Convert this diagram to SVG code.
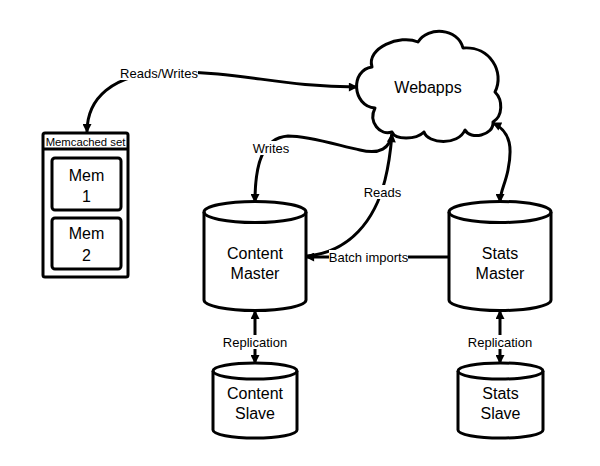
<svg xmlns="http://www.w3.org/2000/svg" width="600" height="466" viewBox="0 0 600 466">
<style>
.s{fill:#fff;stroke:#000;stroke-width:3;stroke-linejoin:round}
.c{fill:none;stroke:#000;stroke-width:3}
.t{font-family:"Liberation Sans",Arial,sans-serif;fill:#000;text-anchor:middle}
.n{font-size:16px}
.l{font-size:13px}
.bg{fill:#fff}
</style>
<defs>
<marker id="ae" viewBox="0 0 10 10" refX="9" refY="5" markerUnits="userSpaceOnUse" markerWidth="10" markerHeight="9" orient="auto"><path d="M0,0 L10,5 L0,10 z" fill="#000"/></marker>
<marker id="as" viewBox="0 0 10 10" refX="1" refY="5" markerUnits="userSpaceOnUse" markerWidth="10" markerHeight="9" orient="auto"><path d="M10,0 L0,5 L10,10 z" fill="#000"/></marker>
</defs>
<rect width="600" height="466" fill="#fff"/>

<g id="webapps">
<path class="s" d="M372,67 C366,48 400,34 418,42 C428,26 458,28 463,48 C490,46 505,72 495,92 C503,100 503,116 493,122 C494,136 470,140 465,130 C458,146 428,144 424,132 C416,140 395,140 392,132 C380,136 368,122 375,108 C352,106 350,70 372,67 Z"/>
<text class="t n" x="428" y="93">Webapps</text>
</g>

<g id="memcached">
<rect class="s" x="43" y="133" width="85" height="144" rx="2"/>
<line class="c" x1="43" y1="149" x2="128" y2="149"/>
<text class="t" style="font-size:11.3px" x="85.5" y="146">Memcached set</text>
</g>
<g id="mem1">
<rect class="s" x="52" y="158" width="69" height="52" rx="3"/>
<text class="t n" x="86.5" y="181">Mem</text>
<text class="t n" x="86.5" y="202">1</text>
</g>
<g id="mem2">
<rect class="s" x="52" y="218" width="69" height="51" rx="3"/>
<text class="t n" x="86.5" y="239">Mem</text>
<text class="t n" x="86.5" y="261">2</text>
</g>

<g id="content-master">
<path class="s" d="M204,212 A51,10.5 0 0 1 306,212 L306,300 A51,10.5 0 0 1 204,300 Z"/>
<path class="c" d="M204,212 A51,10.5 0 0 0 306,212"/>
<text class="t n" x="255" y="259">Content</text>
<text class="t n" x="255" y="279">Master</text>
</g>
<g id="stats-master">
<path class="s" d="M449,212 A51,10.5 0 0 1 551,212 L551,300 A51,10.5 0 0 1 449,300 Z"/>
<path class="c" d="M449,212 A51,10.5 0 0 0 551,212"/>
<text class="t n" x="500" y="259">Stats</text>
<text class="t n" x="500" y="279">Master</text>
</g>
<g id="content-slave">
<path class="s" d="M213,371 A42,8 0 0 1 297,371 L297,430 A42,8 0 0 1 213,430 Z"/>
<path class="c" d="M213,371 A42,8 0 0 0 297,371"/>
<text class="t n" x="255" y="399">Content</text>
<text class="t n" x="255" y="419">Slave</text>
</g>
<g id="stats-slave">
<path class="s" d="M458,371 A42.5,8 0 0 1 543,371 L543,430 A42.5,8 0 0 1 458,430 Z"/>
<path class="c" d="M458,371 A42.5,8 0 0 0 543,371"/>
<text class="t n" x="500.5" y="399">Stats</text>
<text class="t n" x="500.5" y="419">Slave</text>
</g>

<g id="connectors">
<path class="c" d="M357,87 C280,87 240,71 170,72 C110,73 87,100 87,132" marker-start="url(#as)" marker-end="url(#ae)"/>
<rect class="bg" x="120" y="65" width="78" height="15"/>
<text class="t l" x="159" y="77.5">Reads/Writes</text>

<path class="c" d="M392,134 C390,148 380,155 360,150 C340,146 310,136 288,136 C262,138 255,165 255,202" marker-end="url(#ae)"/>
<rect class="bg" x="253" y="141" width="36" height="14"/>
<text class="t l" x="271" y="152.5">Writes</text>

<path class="c" d="M307,256 C350,252 375,220 385,180 C390,160 391,146 392,134" marker-end="url(#ae)"/>
<rect class="bg" x="364" y="185" width="37" height="14"/>
<text class="t l" x="382.5" y="196.5">Reads</text>

<path class="c" d="M449,257 L306,257" marker-end="url(#ae)"/>
<rect class="bg" x="329" y="250" width="79" height="15"/>
<text class="t l" x="368.5" y="262">Batch imports</text>

<path class="c" d="M493,123 C512,132 512,150 508,170 C505,185 500,192 500,202" marker-start="url(#as)" marker-end="url(#ae)"/>

<path class="c" d="M255,311 L255,363" marker-start="url(#as)" marker-end="url(#ae)"/>
<rect class="bg" x="223" y="335" width="64" height="14"/>
<text class="t l" x="255" y="346.5">Replication</text>

<path class="c" d="M500,311 L500,363" marker-start="url(#as)" marker-end="url(#ae)"/>
<rect class="bg" x="468" y="335" width="64" height="14"/>
<text class="t l" x="500" y="346.5">Replication</text>
</g>
</svg>
